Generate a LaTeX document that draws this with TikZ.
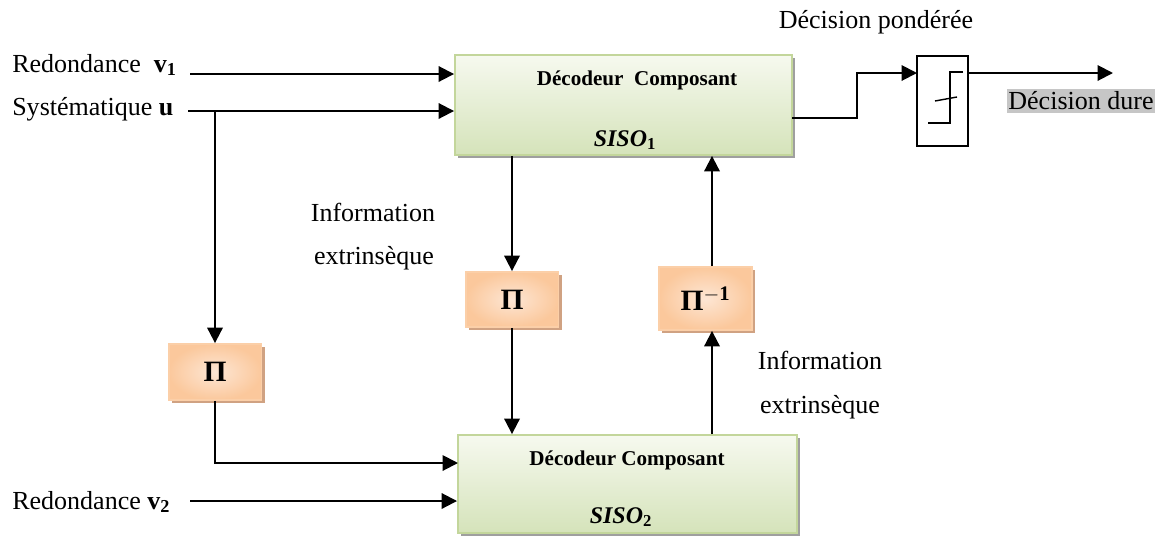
\documentclass[tikz,border=0pt]{standalone}
\usepackage{fontspec}
\setmainfont{Liberation Serif}
\usetikzlibrary{arrows.meta,shadows}

\definecolor{decedge}{HTML}{C3D69B}
\definecolor{dectop}{HTML}{F6F9EF}
\definecolor{decbot}{HTML}{D5E3BA}
\definecolor{pinner}{HTML}{FDE6D4}
\definecolor{pouter}{HTML}{FBC89C}
\definecolor{pedge}{HTML}{FBCFA8}
\definecolor{pshadow}{HTML}{D0A282}

\tikzset{
  lbl/.style={font=\fontsize{18.5}{22}\selectfont, inner sep=0pt},
  boxlbl/.style={font=\fontsize{15}{18}\selectfont\bfseries, inner sep=0pt},
  sisolbl/.style={font=\fontsize{17}{20}\selectfont\bfseries, inner sep=0pt},
  arr/.style={line width=1.4pt, -{Triangle[length=11pt,width=11pt]}},
  decbox/.style={draw=decedge, line width=1.3pt, top color=dectop, bottom color=decbot,
    drop shadow={shadow xshift=0.08cm, shadow yshift=-0.08cm, fill=gray!75, opacity=1}},
  pibox/.style={draw=pedge, line width=1.3pt, shading=radial, inner color=pinner, outer color=pouter,
    minimum width=2.32cm, font=\fontsize{21}{24}\selectfont\bfseries,
    drop shadow={shadow xshift=0.08cm, shadow yshift=-0.08cm, fill=pshadow, opacity=1}}
}

\begin{document}
\begin{tikzpicture}[x=0.025cm,y=-0.025cm]
  \useasboundingbox (0,0) rectangle (1158,535);

  % decodeurs
  \node[decbox, minimum width=8.425cm, minimum height=2.5cm] (dec1) at (623.5,105) {};
  \node[decbox, minimum width=8.475cm, minimum height=2.45cm] (dec2) at (627.5,484) {};
  \node[boxlbl] (dec1t) at (637,80) {Décodeur\ \ Composant};
  \node[sisolbl] (siso1) at (625,140) {\textit{SISO}\textsubscript{1}};
  \node[boxlbl] (dec2t) at (627,460) {Décodeur Composant};
  \node[sisolbl] (siso2) at (621,517) {\textit{SISO}\textsubscript{2}};

  % entrelaceurs
  \node[pibox, minimum height=1.4cm] (pia) at (215,372) {Π};
  \node[pibox, minimum height=1.375cm] (pib) at (512,299.5) {Π};
  \node[pibox, minimum height=1.575cm] (pic) at (705.5,298.5) {Π$^{\mathbf{-1}}$};

  % decision
  \node[draw, line width=1pt, minimum width=1.275cm, minimum height=2.25cm] (hd) at (942.5,101) {};
  \draw[line width=1pt] (963,72) -- (950,72) -- (950,123) -- (928,123);
  \draw[line width=1pt] (935,101) -- (957,97);

  % textes
  \node[lbl, anchor=base west] (v1) at (12,72) {Redondance\ \ \textbf{v\textsubscript{1}}};
  \node[lbl, anchor=base west] (u) at (12,115) {Systématique \textbf{u}};
  \node[lbl, anchor=base west] (v2) at (12,509) {Redondance \textbf{v\textsubscript{2}}};
  \node[lbl] (inf1) at (373,212) {Information};
  \node[lbl] (ext1) at (374,258) {extrinsèque};
  \node[lbl] (inf2) at (820,360) {Information};
  \node[lbl] (ext2) at (820,407) {extrinsèque};
  \node[lbl] (pond) at (876,22) {Décision pondérée};
  \node[lbl, fill=gray!45, inner xsep=1pt, inner ysep=2pt] (dure) at (1081,101) {Décision dure};

  % connexions
  \coordinate (v1s) at (190,74);
  \coordinate (us) at (188,111);
  \coordinate (ub) at (215,111);
  \coordinate (v2s) at (190,501);
  \coordinate (pin) at (458,463);
  \coordinate (fb) at (712,0);
  \coordinate (so) at (792,118);
  \coordinate (hin) at (917,73);
  \coordinate (hout) at (1113,73);

  \draw[arr] (v1s) -- (v1s -| dec1.west);
  \draw[arr] (us) -- (us -| dec1.west);
  \draw[arr] (ub) -- (pia.north);
  \draw[arr] (pia.south) |- (pin);
  \draw[arr] (v2s) -- (v2s -| dec2.west);
  \draw[arr] (pib.north |- dec1.south) -- (pib.north);
  \draw[arr] (pib.south) -- (pib.south |- dec2.north);
  \draw[arr] (dec2.north -| fb) -- (pic.south -| fb);
  \draw[arr] (pic.north -| fb) -- (dec1.south -| fb);
  \draw[arr] (so) -- (857,118) |- (hin);
  \draw[arr] (hin -| hd.east) -- (hout);
\end{tikzpicture}
\end{document}
